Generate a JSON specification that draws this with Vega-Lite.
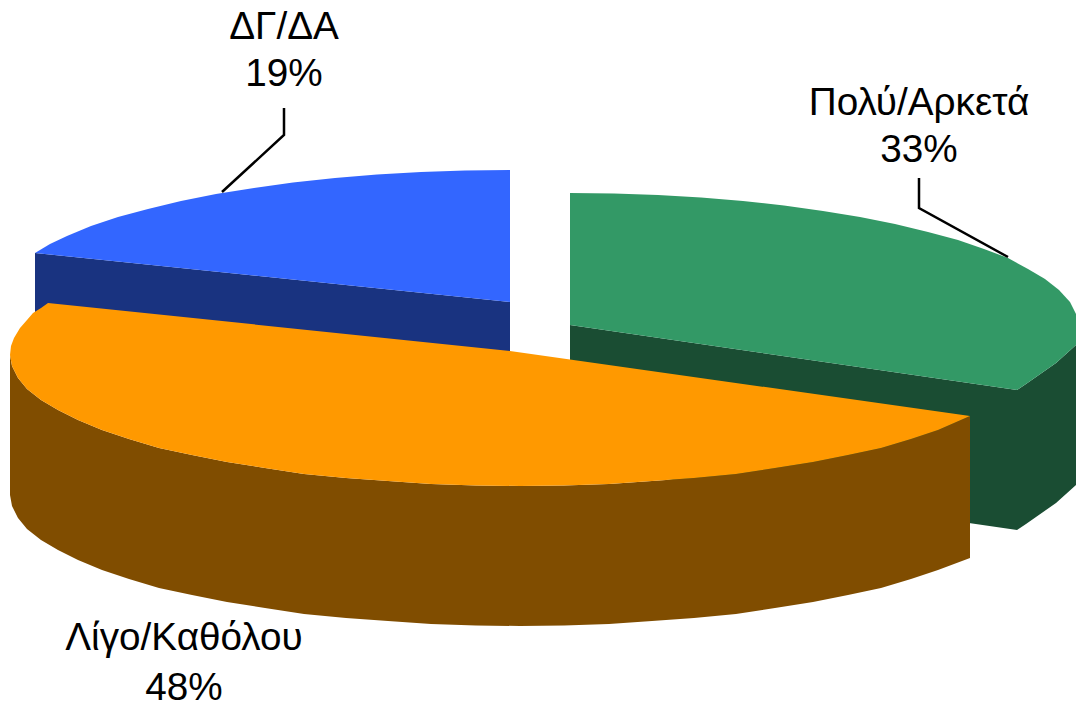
{"$schema":"https://vega.github.io/schema/vega-lite/v6.json","width":1076,"height":704,"autosize":{"type":"none"},"padding":0,"background":"white","view":{"stroke":null},
"datasets":{
"faces":[
{"part":"blueWall","i":0,"x":35,"y":253},{"part":"blueWall","i":1,"x":510,"y":302},{"part":"blueWall","i":2,"x":510,"y":442},{"part":"blueWall","i":3,"x":35,"y":393},
{"part":"blueTop","i":0,"x":510,"y":170},{"part":"blueTop","i":1,"x":465,"y":170.5},{"part":"blueTop","i":2,"x":421,"y":172},{"part":"blueTop","i":3,"x":377,"y":174.5},{"part":"blueTop","i":4,"x":335,"y":178},{"part":"blueTop","i":5,"x":293,"y":182.4},{"part":"blueTop","i":6,"x":254,"y":188},{"part":"blueTop","i":7,"x":216,"y":194},{"part":"blueTop","i":8,"x":181,"y":201},{"part":"blueTop","i":9,"x":148,"y":209},{"part":"blueTop","i":10,"x":118,"y":217},{"part":"blueTop","i":11,"x":91,"y":226},{"part":"blueTop","i":12,"x":67,"y":236},{"part":"blueTop","i":13,"x":50,"y":244},{"part":"blueTop","i":14,"x":35,"y":253},{"part":"blueTop","i":15,"x":510,"y":302},
{"part":"greenWall","i":0,"x":570,"y":325},{"part":"greenWall","i":1,"x":1017,"y":390},{"part":"greenWall","i":2,"x":1017,"y":530},{"part":"greenWall","i":3,"x":570,"y":465},
{"part":"greenSide","i":0,"x":1017,"y":390},{"part":"greenSide","i":1,"x":1026,"y":384},{"part":"greenSide","i":2,"x":1036,"y":377},{"part":"greenSide","i":3,"x":1056,"y":363},{"part":"greenSide","i":4,"x":1076,"y":345},{"part":"greenSide","i":5,"x":1076,"y":485},{"part":"greenSide","i":6,"x":1056,"y":503},{"part":"greenSide","i":7,"x":1036,"y":517},{"part":"greenSide","i":8,"x":1026,"y":524},{"part":"greenSide","i":9,"x":1017,"y":530},
{"part":"greenTop","i":0,"x":570,"y":193},{"part":"greenTop","i":1,"x":614,"y":193.5},{"part":"greenTop","i":2,"x":658,"y":195},{"part":"greenTop","i":3,"x":701,"y":197.5},{"part":"greenTop","i":4,"x":743,"y":201},{"part":"greenTop","i":5,"x":784,"y":205.4},{"part":"greenTop","i":6,"x":823,"y":211},{"part":"greenTop","i":7,"x":860,"y":217},{"part":"greenTop","i":8,"x":895,"y":224},{"part":"greenTop","i":9,"x":928,"y":232},{"part":"greenTop","i":10,"x":958,"y":240},{"part":"greenTop","i":11,"x":984,"y":249},{"part":"greenTop","i":12,"x":1008,"y":258},{"part":"greenTop","i":13,"x":1028,"y":269},{"part":"greenTop","i":14,"x":1045,"y":279},{"part":"greenTop","i":15,"x":1059,"y":290},{"part":"greenTop","i":16,"x":1070,"y":302},{"part":"greenTop","i":17,"x":1076,"y":314},{"part":"greenTop","i":18,"x":1076,"y":345},{"part":"greenTop","i":19,"x":1056,"y":363},{"part":"greenTop","i":20,"x":1036,"y":377},{"part":"greenTop","i":21,"x":1026,"y":384},{"part":"greenTop","i":22,"x":1017,"y":390},{"part":"greenTop","i":23,"x":570,"y":325},
{"part":"orangeSide","i":0,"x":10,"y":355},{"part":"orangeSide","i":1,"x":12,"y":366},{"part":"orangeSide","i":2,"x":18,"y":378},{"part":"orangeSide","i":3,"x":27,"y":389},{"part":"orangeSide","i":4,"x":41,"y":400},{"part":"orangeSide","i":5,"x":58,"y":410},{"part":"orangeSide","i":6,"x":78,"y":420},{"part":"orangeSide","i":7,"x":102,"y":430},{"part":"orangeSide","i":8,"x":129,"y":439},{"part":"orangeSide","i":9,"x":159,"y":448},{"part":"orangeSide","i":10,"x":192,"y":455},{"part":"orangeSide","i":11,"x":227,"y":462},{"part":"orangeSide","i":12,"x":265,"y":468},{"part":"orangeSide","i":13,"x":304,"y":474},{"part":"orangeSide","i":14,"x":346,"y":478},{"part":"orangeSide","i":15,"x":388,"y":481},{"part":"orangeSide","i":16,"x":431,"y":484},{"part":"orangeSide","i":17,"x":476,"y":485.5},{"part":"orangeSide","i":18,"x":520,"y":486},{"part":"orangeSide","i":19,"x":564,"y":485.5},{"part":"orangeSide","i":20,"x":609,"y":484},{"part":"orangeSide","i":21,"x":652,"y":481},{"part":"orangeSide","i":22,"x":694,"y":478},{"part":"orangeSide","i":23,"x":736,"y":474},{"part":"orangeSide","i":24,"x":775,"y":468},{"part":"orangeSide","i":25,"x":813,"y":462},{"part":"orangeSide","i":26,"x":848,"y":455},{"part":"orangeSide","i":27,"x":881,"y":448},{"part":"orangeSide","i":28,"x":911,"y":439},{"part":"orangeSide","i":29,"x":938,"y":430},{"part":"orangeSide","i":30,"x":970,"y":416},
{"part":"orangeSide","i":31,"x":970,"y":558},{"part":"orangeSide","i":32,"x":938,"y":570},{"part":"orangeSide","i":33,"x":911,"y":579},{"part":"orangeSide","i":34,"x":881,"y":588},{"part":"orangeSide","i":35,"x":848,"y":595},{"part":"orangeSide","i":36,"x":813,"y":602},{"part":"orangeSide","i":37,"x":775,"y":608},{"part":"orangeSide","i":38,"x":736,"y":614},{"part":"orangeSide","i":39,"x":694,"y":618},{"part":"orangeSide","i":40,"x":652,"y":621},{"part":"orangeSide","i":41,"x":609,"y":624},{"part":"orangeSide","i":42,"x":564,"y":625.5},{"part":"orangeSide","i":43,"x":520,"y":626},{"part":"orangeSide","i":44,"x":476,"y":625.5},{"part":"orangeSide","i":45,"x":431,"y":624},{"part":"orangeSide","i":46,"x":388,"y":621},{"part":"orangeSide","i":47,"x":346,"y":618},{"part":"orangeSide","i":48,"x":304,"y":614},{"part":"orangeSide","i":49,"x":265,"y":608},{"part":"orangeSide","i":50,"x":227,"y":602},{"part":"orangeSide","i":51,"x":192,"y":595},{"part":"orangeSide","i":52,"x":159,"y":588},{"part":"orangeSide","i":53,"x":129,"y":579},{"part":"orangeSide","i":54,"x":102,"y":570},{"part":"orangeSide","i":55,"x":78,"y":560},{"part":"orangeSide","i":56,"x":58,"y":550},{"part":"orangeSide","i":57,"x":41,"y":540},{"part":"orangeSide","i":58,"x":27,"y":529},{"part":"orangeSide","i":59,"x":18,"y":518},{"part":"orangeSide","i":60,"x":12,"y":506},{"part":"orangeSide","i":61,"x":10,"y":495},
{"part":"orangeTop","i":0,"x":48,"y":303},{"part":"orangeTop","i":1,"x":41,"y":308},{"part":"orangeTop","i":2,"x":33,"y":313},{"part":"orangeTop","i":3,"x":27,"y":320},{"part":"orangeTop","i":4,"x":20,"y":328},{"part":"orangeTop","i":5,"x":14,"y":338},{"part":"orangeTop","i":6,"x":11,"y":346},{"part":"orangeTop","i":7,"x":10,"y":355},{"part":"orangeTop","i":8,"x":12,"y":366},{"part":"orangeTop","i":9,"x":18,"y":378},{"part":"orangeTop","i":10,"x":27,"y":389},{"part":"orangeTop","i":11,"x":41,"y":400},{"part":"orangeTop","i":12,"x":58,"y":410},{"part":"orangeTop","i":13,"x":78,"y":420},{"part":"orangeTop","i":14,"x":102,"y":430},{"part":"orangeTop","i":15,"x":129,"y":439},{"part":"orangeTop","i":16,"x":159,"y":448},{"part":"orangeTop","i":17,"x":192,"y":455},{"part":"orangeTop","i":18,"x":227,"y":462},{"part":"orangeTop","i":19,"x":265,"y":468},{"part":"orangeTop","i":20,"x":304,"y":474},{"part":"orangeTop","i":21,"x":346,"y":478},{"part":"orangeTop","i":22,"x":388,"y":481},{"part":"orangeTop","i":23,"x":431,"y":484},{"part":"orangeTop","i":24,"x":476,"y":485.5},{"part":"orangeTop","i":25,"x":520,"y":486},{"part":"orangeTop","i":26,"x":564,"y":485.5},{"part":"orangeTop","i":27,"x":609,"y":484},{"part":"orangeTop","i":28,"x":652,"y":481},{"part":"orangeTop","i":29,"x":694,"y":478},{"part":"orangeTop","i":30,"x":736,"y":474},{"part":"orangeTop","i":31,"x":775,"y":468},{"part":"orangeTop","i":32,"x":813,"y":462},{"part":"orangeTop","i":33,"x":848,"y":455},{"part":"orangeTop","i":34,"x":881,"y":448},{"part":"orangeTop","i":35,"x":911,"y":439},{"part":"orangeTop","i":36,"x":938,"y":430},{"part":"orangeTop","i":37,"x":970,"y":416},{"part":"orangeTop","i":38,"x":510,"y":351}
],
"leaders":[
{"category":"ΔΓ/ΔΑ","i":0,"x":284,"y":108},{"category":"ΔΓ/ΔΑ","i":1,"x":284,"y":135},{"category":"ΔΓ/ΔΑ","i":2,"x":222,"y":192},
{"category":"Πολύ/Αρκετά","i":0,"x":919,"y":178},{"category":"Πολύ/Αρκετά","i":1,"x":919,"y":208},{"category":"Πολύ/Αρκετά","i":2,"x":1008,"y":257}
],
"labels":[
{"text":"ΔΓ/ΔΑ","x":284,"y":39},{"text":"19%","x":284,"y":86},
{"text":"Πολύ/Αρκετά","x":919,"y":115},{"text":"33%","x":919,"y":162},
{"text":"Λίγο/Καθόλου","x":184,"y":650},{"text":"48%","x":184,"y":700}
]},
"encoding":{
"x":{"field":"x","type":"quantitative","scale":{"domain":[0,1076],"nice":false,"zero":false},"axis":null},
"y":{"field":"y","type":"quantitative","scale":{"domain":[704,0],"nice":false,"zero":false},"axis":null}},
"layer":[
{"data":{"name":"faces"},"mark":{"type":"line","filled":true,"interpolate":"linear-closed","strokeWidth":0,"clip":false},
"encoding":{"order":{"field":"i","type":"quantitative"},"detail":{"field":"part"},
"fill":{"field":"part","type":"nominal","legend":null,"scale":{"domain":["blueWall","blueTop","greenWall","greenSide","greenTop","orangeSide","orangeTop"],"range":["#193380","#3366FF","#1A4D33","#1A4D33","#339966","#804D00","#FF9900"]}}}},
{"data":{"name":"leaders"},"mark":{"type":"line","color":"black","strokeWidth":2.5},
"encoding":{"order":{"field":"i","type":"quantitative"},"detail":{"field":"category"}}},
{"data":{"name":"labels"},"mark":{"type":"text","font":"Liberation Sans","fontSize":38.7,"color":"black","align":"center","baseline":"alphabetic"},
"encoding":{"text":{"field":"text"}}}
]}
